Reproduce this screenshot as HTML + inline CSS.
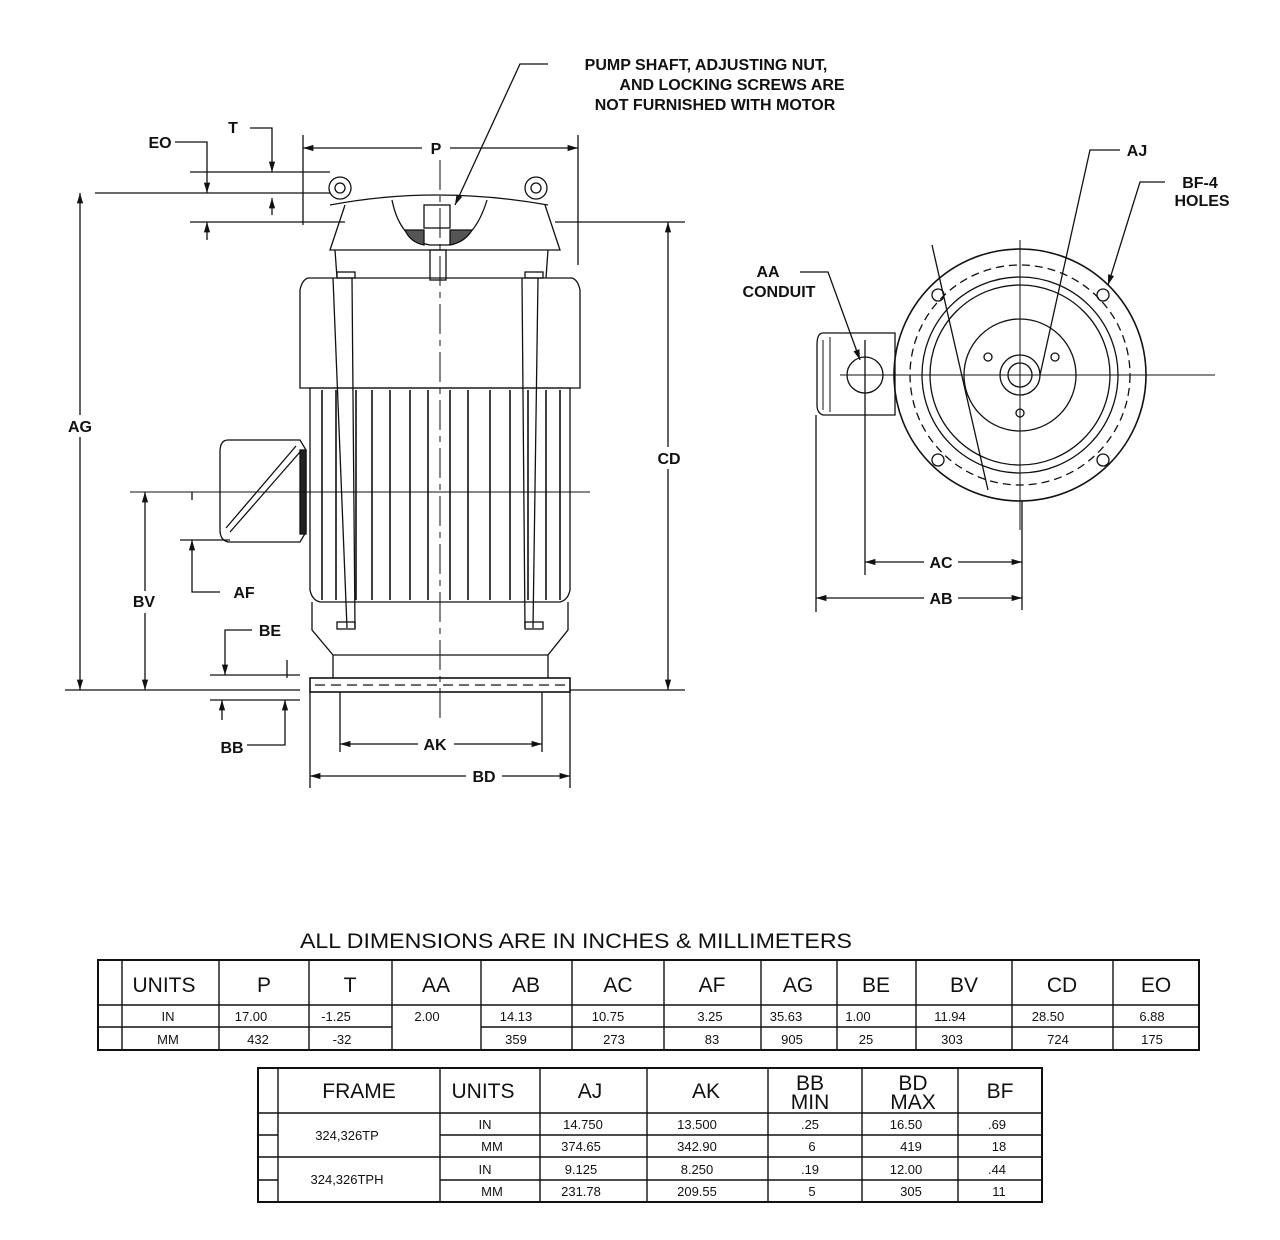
<!DOCTYPE html>
<html><head><meta charset="utf-8"><style>
body{margin:0;background:#fff}
svg{display:block}
text{font-family:"Liberation Sans",Arial,sans-serif;fill:#111}
</style></head><body>
<svg width="1280" height="1240" viewBox="0 0 1280 1240" xmlns="http://www.w3.org/2000/svg">
<defs>
<marker id="a" viewBox="0 0 10 10" refX="10" refY="5" markerWidth="8" markerHeight="8" orient="auto-start-reverse"><path d="M0,2 L10,5 L0,8z" fill="#111"/></marker>
</defs>
<g stroke="#111" stroke-width="1.3" fill="none">
<circle cx="340" cy="188" r="11"/><circle cx="340" cy="188" r="5"/>
<circle cx="536" cy="188" r="11"/><circle cx="536" cy="188" r="5"/>
<path d="M330,205 Q435,185 548,205"/>
<path d="M345,205 L330,250 L560,250 L545,205"/>
<path d="M392,200 Q400,240 430,245 L448,245 Q475,240 487,200"/>
<path d="M405,230 L424,230 L424,245 Q410,242 405,230z M450,230 L472,230 Q465,242 450,245z" fill="#555"/>
<rect x="424" y="205" width="26" height="23"/>
<path d="M335,250 L337,278 M548,250 L546,278"/>
<rect x="430" y="250" width="16" height="30"/>
<path d="M308,278 L572,278 Q578,280 580,290 L580,388 L300,388 L300,290 Q302,280 308,278z"/>
<path d="M310,388 L570,388 L570,590 Q568,600 560,602 L320,602 Q312,600 310,590z"/>
<g stroke-width="1.6">
<path d="M322,390 V600 M336,390 V600 M356,390 V600 M372,390 V600 M390,390 V600 M410,390 V600 M428,390 V600 M450,390 V600 M468,390 V600 M490,390 V600 M510,390 V600 M528,390 V600 M546,390 V600 M560,390 V600"/>
</g>
<path d="M333,278 L347,628 M352,278 L355,628 M538,278 L533,628 M522,278 L525,628"/>
<rect x="337" y="272" width="18" height="6"/><rect x="525" y="272" width="18" height="6"/>
<rect x="337" y="622" width="18" height="7"/><rect x="525" y="622" width="18" height="7"/>
<path d="M312,602 L312,630 L333,655 L333,678 M568,602 L568,630 L548,655 L548,678 M333,655 H548"/>
<rect x="310" y="678" width="260" height="14" stroke-width="1.6"/>
<path d="M315,685 H570" stroke-dasharray="10,6"/>
<path d="M228,440 L300,440 L306,450 L306,532 L300,542 L228,542 Q220,540 220,530 L220,452 Q220,440 228,440z"/>
<path d="M300,452 L230,532 M296,446 L226,528"/>
<rect x="300" y="450" width="6" height="84" fill="#222"/>
<path d="M440,160 V720" stroke-dasharray="30,6,6,6" stroke-width="1"/>
<path d="M130,492 H590" stroke-width="1"/>
<path d="M95,193 H330 M190,222 H345 M555,222 H685 M570,690 H685 M65,690 H300 M130,690 H300"/>
<path d="M80,193 V690" marker-start="url(#a)" marker-end="url(#a)"/>
<path d="M668,222 V690" marker-start="url(#a)" marker-end="url(#a)"/>
<path d="M145,492 V690" marker-start="url(#a)" marker-end="url(#a)"/>
<path d="M303,135 V225 M578,135 V265"/>
<path d="M303,148 H578" marker-start="url(#a)" marker-end="url(#a)"/>
<path d="M175,142 H207 V193" marker-end="url(#a)"/>
<path d="M207,240 V222" marker-end="url(#a)"/>
<path d="M250,128 H272 V172" marker-end="url(#a)"/>
<path d="M272,215 V198" marker-end="url(#a)"/>
<path d="M190,172 H330 M180,540 H230"/>
<path d="M220,592 H192 V540" marker-end="url(#a)"/>
<path d="M192,500 V492" />
<path d="M252,630 H225 V675" marker-end="url(#a)"/>
<path d="M210,675 H300 M210,700 H300"/>
<path d="M247,745 H285 V700" marker-end="url(#a)"/>
<path d="M222,720 V700" marker-end="url(#a)"/>
<path d="M287,660 V678"/>
<path d="M340,692 V752 M542,692 V752 M310,692 V788 M570,692 V788"/>
<path d="M340,744 H542" marker-start="url(#a)" marker-end="url(#a)"/>
<path d="M310,776 H570" marker-start="url(#a)" marker-end="url(#a)"/>
<path d="M548,64 H520 L455,205" marker-end="url(#a)"/>
<circle cx="1020" cy="375" r="126" stroke-width="1.6"/>
<circle cx="1020" cy="375" r="110" stroke-dasharray="8,5"/>
<circle cx="1020" cy="375" r="98"/>
<circle cx="1020" cy="375" r="90"/>
<circle cx="1020" cy="375" r="56"/>
<circle cx="1020" cy="375" r="20"/><circle cx="1020" cy="375" r="12"/>
<circle cx="938" cy="295" r="6"/><circle cx="1103" cy="295" r="6"/><circle cx="938" cy="460" r="6"/><circle cx="1103" cy="460" r="6"/>
<circle cx="988" cy="357" r="4"/><circle cx="1055" cy="357" r="4"/><circle cx="1020" cy="413" r="4"/>
<path d="M823,333 L895,333 L895,415 L823,415 Q817,413 817,405 L817,345 Q817,333 823,333z"/>
<path d="M823,340 V410 M830,337 V412" stroke-width="1"/>
<circle cx="865" cy="375" r="18"/>
<path d="M840,375 H1215 M1020,240 V530" stroke-width="1"/>
<path d="M865,340 V575 M1022,500 V610 M816,415 V612"/>
<path d="M932,245 L988,490"/>
<path d="M1120,150 H1090 L1040,375"/>
<path d="M1165,182 H1140 L1108,285" marker-end="url(#a)"/>
<path d="M800,272 H828 L860,360" marker-end="url(#a)"/>
<path d="M865,562 H1022" marker-start="url(#a)" marker-end="url(#a)"/>
<path d="M816,598 H1022" marker-start="url(#a)" marker-end="url(#a)"/>
</g>
<g fill="#fff" stroke="none">
<rect x="65" y="415" width="30" height="22"/><rect x="655" y="447" width="28" height="22"/>
<rect x="130" y="591" width="30" height="22"/><rect x="422" y="138" width="28" height="20"/>
<rect x="418" y="734" width="36" height="20"/><rect x="466" y="766" width="36" height="20"/>
<rect x="924" y="552" width="34" height="20"/><rect x="924" y="588" width="34" height="20"/>
</g>
<g font-size="16" text-anchor="middle" font-weight="bold">
<text x="80" y="432">AG</text><text x="669" y="464">CD</text><text x="144" y="607">BV</text>
<text x="436" y="154">P</text><text x="435" y="750">AK</text><text x="484" y="782">BD</text>
<text x="160" y="148">EO</text><text x="233" y="133">T</text><text x="244" y="598">AF</text>
<text x="270" y="636">BE</text><text x="232" y="753">BB</text>
<text x="941" y="568">AC</text><text x="941" y="604">AB</text>
<text x="1137" y="156">AJ</text><text x="1200" y="188">BF-4</text><text x="1202" y="206">HOLES</text>
<text x="768" y="277">AA</text><text x="779" y="297">CONDUIT</text>
<text x="706" y="70">PUMP SHAFT, ADJUSTING NUT,</text>
<text x="732" y="90">AND LOCKING SCREWS ARE</text>
<text x="715" y="110">NOT FURNISHED WITH MOTOR</text>
</g>
<text x="300" y="948" font-size="21" textLength="552" lengthAdjust="spacingAndGlyphs">ALL DIMENSIONS ARE IN INCHES &amp; MILLIMETERS</text>
<g stroke="#111" stroke-width="1.4" fill="none">
<rect x="98" y="960" width="1101" height="90" stroke-width="2"/>
<path d="M122,960 V1050 M219,960 V1050 M309,960 V1050 M392,960 V1050 M481,960 V1050 M572,960 V1050 M664,960 V1050 M761,960 V1050 M837,960 V1050 M916,960 V1050 M1012,960 V1050 M1113,960 V1050"/>
<path d="M98,1005 H1199 M98,1027 H392 M481,1027 H1199"/>
</g>
<g text-anchor="middle" font-size="21">
<text x="164" y="992">UNITS</text><text x="264" y="992">P</text><text x="350" y="992">T</text><text x="436" y="992">AA</text><text x="526" y="992">AB</text><text x="618" y="992">AC</text><text x="712" y="992">AF</text><text x="798" y="992">AG</text><text x="876" y="992">BE</text><text x="964" y="992">BV</text><text x="1062" y="992">CD</text><text x="1156" y="992">EO</text>
</g>
<g text-anchor="middle" font-size="13">
<text x="168" y="1021">IN</text><text x="251" y="1021">17.00</text><text x="336" y="1021">-1.25</text><text x="427" y="1021">2.00</text><text x="516" y="1021">14.13</text><text x="608" y="1021">10.75</text><text x="710" y="1021">3.25</text><text x="786" y="1021">35.63</text><text x="858" y="1021">1.00</text><text x="950" y="1021">11.94</text><text x="1048" y="1021">28.50</text><text x="1152" y="1021">6.88</text>
<text x="168" y="1044">MM</text><text x="258" y="1044">432</text><text x="342" y="1044">-32</text><text x="516" y="1044">359</text><text x="614" y="1044">273</text><text x="712" y="1044">83</text><text x="792" y="1044">905</text><text x="866" y="1044">25</text><text x="952" y="1044">303</text><text x="1058" y="1044">724</text><text x="1152" y="1044">175</text>
</g>
<g stroke="#111" stroke-width="1.4" fill="none">
<rect x="258" y="1068" width="784" height="134" stroke-width="2"/>
<path d="M278,1068 V1202 M440,1068 V1202 M540,1068 V1202 M647,1068 V1202 M768,1068 V1202 M862,1068 V1202 M958,1068 V1202"/>
<path d="M258,1113 H1042 M258,1157 H1042 M258,1135 H278 M440,1135 H1042 M258,1180 H278 M440,1180 H1042"/>
</g>
<g text-anchor="middle" font-size="21">
<text x="359" y="1098">FRAME</text><text x="483" y="1098">UNITS</text><text x="590" y="1098">AJ</text><text x="706" y="1098">AK</text>
<text x="810" y="1090">BB</text><text x="810" y="1109">MIN</text><text x="913" y="1090">BD</text><text x="913" y="1109">MAX</text><text x="1000" y="1098">BF</text>
</g>
<g text-anchor="middle" font-size="13">
<text x="347" y="1140">324,326TP</text><text x="347" y="1184">324,326TPH</text>
<text x="485" y="1129">IN</text><text x="583" y="1129">14.750</text><text x="697" y="1129">13.500</text><text x="810" y="1129">.25</text><text x="906" y="1129">16.50</text><text x="997" y="1129">.69</text>
<text x="492" y="1151">MM</text><text x="581" y="1151">374.65</text><text x="697" y="1151">342.90</text><text x="812" y="1151">6</text><text x="911" y="1151">419</text><text x="999" y="1151">18</text>
<text x="485" y="1174">IN</text><text x="581" y="1174">9.125</text><text x="697" y="1174">8.250</text><text x="810" y="1174">.19</text><text x="906" y="1174">12.00</text><text x="997" y="1174">.44</text>
<text x="492" y="1196">MM</text><text x="581" y="1196">231.78</text><text x="697" y="1196">209.55</text><text x="812" y="1196">5</text><text x="911" y="1196">305</text><text x="999" y="1196">11</text>
</g>
</svg>
</body></html>
